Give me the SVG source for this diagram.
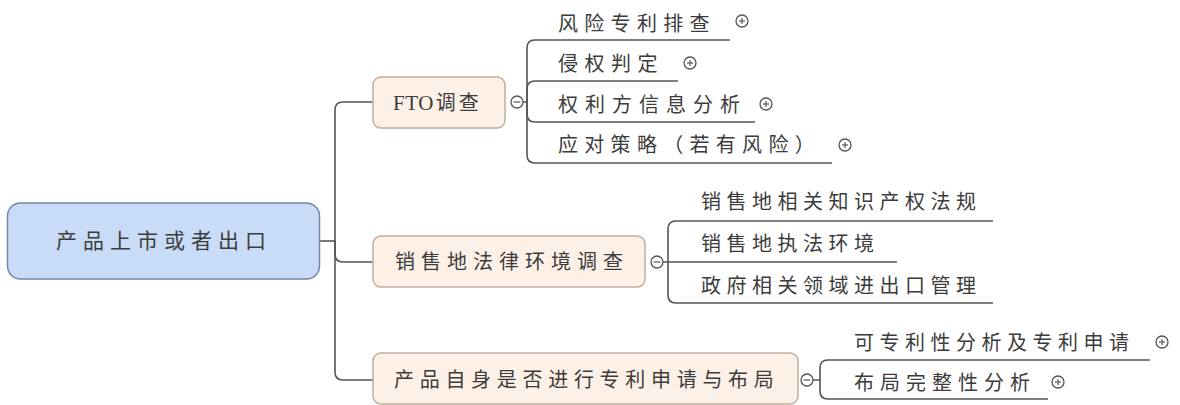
<svg xmlns="http://www.w3.org/2000/svg" width="1180" height="405" viewBox="0 0 1180 405">
<style>
  text { font-family: "Noto Sans CJK SC", "Noto Sans", sans-serif; fill: #3c3c3c; font-size: 20px; }
  .root { fill: #c9dcf7; stroke: #7488a3; stroke-width: 1.5; }
  .branch { fill: #fcf0e7; stroke: #bfae9f; stroke-width: 1.5; }
  .conn { fill: none; stroke: #555; stroke-width: 1.6; }
  .mark { fill: #fff; stroke: #555; stroke-width: 1.3; }
  .markline { stroke: #555; stroke-width: 1.2; }
</style>
<defs>
  <g id="plus">
    <circle r="6" class="mark"/>
    <line x1="-3" y1="0" x2="3" y2="0" class="markline"/>
    <line x1="0" y1="-3" x2="0" y2="3" class="markline"/>
  </g>
  <g id="minus">
    <circle r="6" class="mark"/>
    <line x1="-3.5" y1="0" x2="3.5" y2="0" class="markline"/>
  </g>
</defs>

<g id="connectors">
  <path class="conn" d="M319,241 H335"/>
  <path class="conn" d="M335,241 V110 Q335,102 343,102 H373"/>
  <path class="conn" d="M335,241 V254 Q335,262 343,262 H373"/>
  <path class="conn" d="M335,241 V372 Q335,380 343,380 H373"/>
  <!-- FTO children -->
  <path class="conn" d="M523,102 H527 V48 Q527,40 535,40 H730"/>
  <path class="conn" d="M527,102 V89 Q527,81 535,81 H678"/>
  <path class="conn" d="M527,102 V114 Q527,122 535,122 H755"/>
  <path class="conn" d="M527,102 V155 Q527,163 535,163 H832"/>
  <!-- branch 2 children -->
  <path class="conn" d="M663,262 H668 V229 Q668,221 676,221 H993"/>
  <path class="conn" d="M668,262 H897"/>
  <path class="conn" d="M668,262 V295 Q668,303 676,303 H993"/>
  <!-- branch 3 children -->
  <path class="conn" d="M813,380 H820 V368 Q820,360 828,360 H1150"/>
  <path class="conn" d="M820,380 V391 Q820,399 828,399 H1048"/>
</g>

<g id="root">
  <rect class="root" x="7.5" y="203" width="312" height="76" rx="13"/>
  <text x="56" y="248" style="font-size:21px;letter-spacing:6px">产品上市或者出口</text>
</g>

<g id="fto">
  <rect class="branch" x="373" y="77" width="132" height="51" rx="8"/>
  <text x="393" y="110"><tspan style="font-family:'Liberation Serif',serif;font-size:21px;letter-spacing:0.5px">FTO</tspan><tspan dx="2" style="letter-spacing:3px">调查</tspan></text>
  <use href="#minus" x="517" y="102"/>
</g>
<g id="fto-1">
  <text x="558" y="31" style="letter-spacing:6.3px">风险专利排查</text>
  <use href="#plus" x="742" y="21"/>
</g>
<g id="fto-2">
  <text x="558" y="71" style="letter-spacing:6.5px">侵权判定</text>
  <use href="#plus" x="690" y="63"/>
</g>
<g id="fto-3">
  <text x="558" y="112" style="letter-spacing:7px">权利方信息分析</text>
  <use href="#plus" x="766" y="104"/>
</g>
<g id="fto-4">
  <text x="558" y="152" style="letter-spacing:6.3px">应对策略（若有风险）</text>
  <use href="#plus" x="845" y="145"/>
</g>

<g id="market">
  <rect class="branch" x="373" y="236" width="272" height="51" rx="8"/>
  <text x="395" y="269" style="letter-spacing:6px">销售地法律环境调查</text>
  <use href="#minus" x="657" y="262"/>
</g>
<g id="market-1">
  <text x="701" y="209" style="letter-spacing:5.5px">销售地相关知识产权法规</text>
</g>
<g id="market-2">
  <text x="701" y="251" style="letter-spacing:5.5px">销售地执法环境</text>
</g>
<g id="market-3">
  <text x="701" y="293" style="letter-spacing:5.5px">政府相关领域进出口管理</text>
</g>

<g id="patent">
  <rect class="branch" x="373" y="353" width="425" height="51" rx="8"/>
  <text x="394" y="387" style="letter-spacing:5.7px">产品自身是否进行专利申请与布局</text>
  <use href="#minus" x="807" y="380"/>
</g>
<g id="patent-1">
  <text x="854" y="350" style="letter-spacing:5.5px">可专利性分析及专利申请</text>
  <use href="#plus" x="1162" y="342"/>
</g>
<g id="patent-2">
  <text x="854" y="390" style="letter-spacing:6px">布局完整性分析</text>
  <use href="#plus" x="1058" y="382"/>
</g>
</svg>
